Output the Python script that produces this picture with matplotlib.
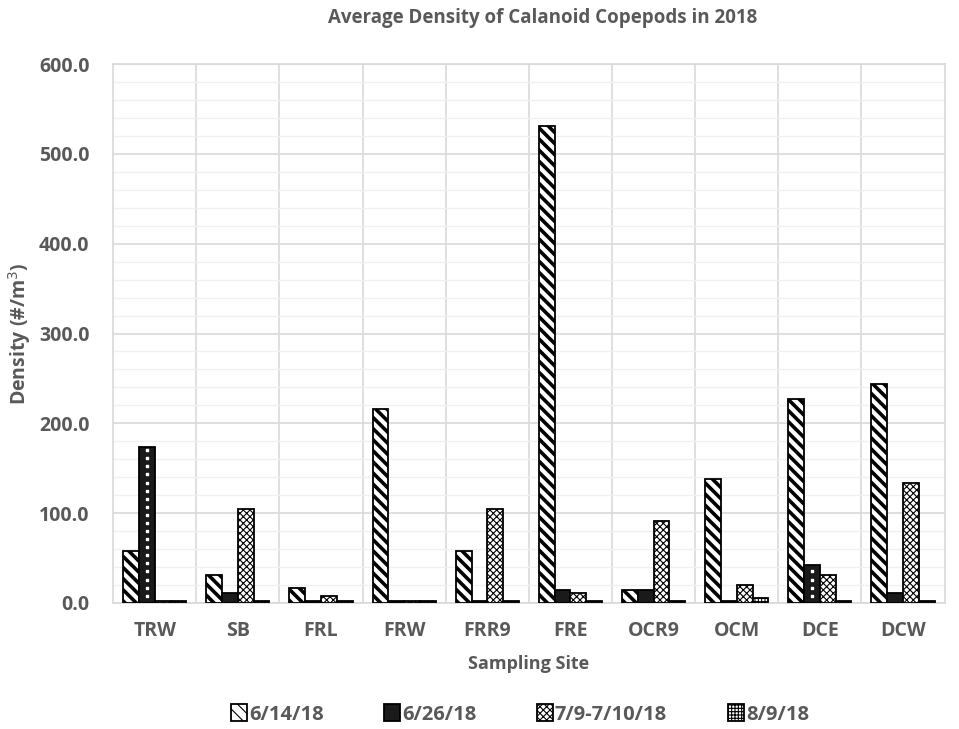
import numpy as np
import matplotlib.pyplot as plt
from matplotlib.ticker import MultipleLocator, FormatStrFormatter

# average calanoid copepod density per site and sampling date
sites = ["TRW", "SB", "FRL", "FRW", "FRR9", "FRE", "OCR9", "OCM", "DCE", "DCW"]
dates = ["6/14/18", "6/26/18", "7/9-7/10/18", "8/9/18"]
d0614 = [58.0, 30.5, 16.5, 216.0, 58.0, 531.0, 14.0, 138.5, 227.0, 243.5]
d0626 = [174.0, 11.0, 2.5, 2.5, 2.5, 14.0, 14.0, 2.5, 42.0, 11.0]
d0709 = [2.5, 105.0, 8.0, 2.5, 105.0, 11.0, 91.5, 19.5, 30.5, 133.0]
d0809 = [2.5, 2.5, 2.5, 2.5, 2.5, 2.5, 2.5, 5.5, 2.5, 2.5]

grey = "#595959"
plt.rcParams['font.family'] = ['Open Sans', 'DejaVu Sans']

fig = plt.figure(figsize=(9.59, 7.29), dpi=100)
ax = fig.add_axes([0.118, 0.173, 0.867, 0.739])

x = np.arange(len(sites))
w = 0.19
styles = [
    dict(facecolor="white", hatch="\\\\\\", hlw=2.6),
    dict(facecolor="#1a1a1a", hatch=None, hlw=1.0),
    dict(facecolor="white", hatch="xxxxx", hlw=0.8),
    dict(facecolor="white", hatch="+++++", hlw=0.8),
]
series = [d0614, d0626, d0709, d0809]
handles = []
for i, (vals, st) in enumerate(zip(series, styles)):
    plt.rcParams['hatch.linewidth'] = st["hlw"]
    b = ax.bar(x + (i - 1.5) * w, vals, w, label=dates[i], facecolor=st["facecolor"],
               edgecolor="black", hatch=st["hatch"], linewidth=1.3, zorder=3)
    handles.append(b)

# white dots running up the 6/26 bars
for xi, v in zip(x, d0626):
    if v > 20:
        ys = np.arange(8, v - 3, 9)
        ax.scatter(np.full(len(ys), xi - 0.5 * w), ys, s=3, color="white", marker="s", zorder=4)

ax.set_xlim(-0.5, len(sites) - 0.5)
ax.set_ylim(0, 600)
ax.yaxis.set_major_locator(MultipleLocator(100))
ax.yaxis.set_minor_locator(MultipleLocator(20))
ax.yaxis.set_major_formatter(FormatStrFormatter("%.1f"))
ax.grid(axis="y", which="major", color="#d9d9d9", lw=1.2, zorder=0)
ax.grid(axis="y", which="minor", color="#f0f0f0", lw=1.0, zorder=0)
for xv in np.arange(0.5, len(sites) - 0.5, 1):
    ax.axvline(xv, color="#d9d9d9", lw=1.2, zorder=0)
for s in ax.spines.values():
    s.set_color("#d9d9d9")
    s.set_linewidth(1.2)

ax.set_xticks(x)
ax.set_xticklabels(sites)
ax.tick_params(axis="both", which="both", length=0, colors=grey, labelsize=14, pad=13)
ax.tick_params(axis="y", pad=17)
for lab in ax.get_xticklabels() + ax.get_yticklabels():
    lab.set_fontweight("bold")

ax.set_xlabel("Sampling Site", color=grey, fontsize=13, fontweight="bold", labelpad=10)
ax.set_ylabel("Density (#/m$^3$)", color=grey, fontsize=14, fontweight="bold", labelpad=4)
fig.text(0.566, 0.975, "Average Density of Calanoid Copepods in 2018", ha="center", va="center",
         color=grey, fontsize=13.5, fontweight="bold")

leg = fig.legend(handles=handles, labels=dates, loc="center", bbox_to_anchor=(0.542, 0.02),
                 ncol=4, frameon=False, fontsize=14.5, handlelength=0.8, handleheight=0.9,
                 handletextpad=0.1, columnspacing=3.0)
for t in leg.get_texts():
    t.set_color(grey)
    t.set_fontweight("bold")

fig.savefig("out.png", dpi=100)
